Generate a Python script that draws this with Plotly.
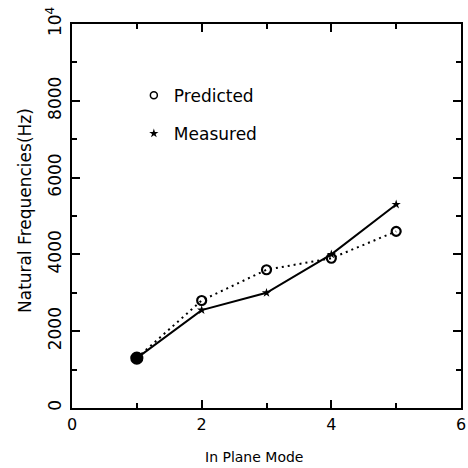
import plotly.graph_objects as go

modes = [1, 2, 3, 4, 5]
predicted = [1300, 2800, 3600, 3900, 4600]
measured = [1300, 2550, 3000, 4000, 5300]
x_ticks = [0, 2, 4, 6]
y_tickvals = [0, 2000, 4000, 6000, 8000, 10000]
y_ticktext = ["0", "2000", "4000", "6000", "8000", "10<sup>4</sup>"]
x_title = "In Plane Mode"
y_title = "Natural Frequencies(Hz)"

font = "DejaVu Sans, Liberation Sans, sans-serif"

fig = go.Figure()
fig.add_trace(go.Scatter(
    x=modes, y=predicted, mode="lines+markers", showlegend=False,
    line=dict(color="black", width=2, dash="2px,4px"),
    marker=dict(symbol=["circle"] + ["circle-open"] * 4, size=[11, 9, 9, 9, 9],
                color="black", opacity=1, line=dict(width=2.2, color="black")),
))
fig.add_trace(go.Scatter(
    x=modes, y=measured, mode="lines+markers", showlegend=False,
    line=dict(color="black", width=2),
    marker=dict(symbol="star", size=7, color="black", opacity=1),
))
# legend entries (markers only)
fig.add_trace(go.Scatter(
    x=[None], y=[None], mode="markers", name="Predicted", legendgroup="p",
    marker=dict(symbol="circle-open", size=7, color="black", line=dict(width=1.5, color="black")),
))
fig.add_trace(go.Scatter(
    x=[None], y=[None], mode="markers", name="Measured", legendgroup="m",
    marker=dict(symbol="star", size=7, color="black"),
))

axis_common = dict(
    showline=True, linewidth=2, linecolor="black", mirror="ticks",
    ticks="inside", ticklen=8, tickwidth=1.5, tickcolor="black",
    showgrid=False, zeroline=False, automargin=False,
    ticklabeloverflow="allow",
)

fig.update_xaxes(
    range=[0, 6], tickvals=x_ticks, ticktext=[str(v) for v in x_ticks],
    tickfont=dict(family=font, size=16, color="black"), ticklabelstandoff=1,
    minor=dict(ticks="inside", dtick=1, tick0=0, ticklen=5, tickcolor="black", tickwidth=1.5),
    **axis_common,
)
fig.update_yaxes(
    range=[0, 10000], tickvals=y_tickvals, ticktext=y_ticktext, tickangle=-90,
    tickfont=dict(family=font, size=17, color="black"), ticklabelstandoff=2,
    minor=dict(ticks="inside", dtick=1000, tick0=0, ticklen=5, tickcolor="black", tickwidth=1.5),
    **axis_common,
)

fig.add_annotation(text=y_title, xref="paper", yref="paper", x=0, y=0.5,
                   xanchor="center", yanchor="middle", xshift=-47, yshift=5,
                   textangle=-90, showarrow=False,
                   font=dict(family=font, size=17, color="black"))
fig.add_annotation(text=x_title, xref="paper", yref="paper", x=0.5, y=0,
                   xanchor="center", yanchor="middle", xshift=-13, yshift=-49,
                   showarrow=False,
                   font=dict(family=font, size=14, color="black"))

fig.update_layout(
    width=468, height=468,
    margin=dict(l=72, r=7, t=24, b=60),
    paper_bgcolor="white", plot_bgcolor="white",
    legend=dict(x=0.159, y=0.86, xanchor="left", yanchor="top",
                font=dict(family=font, size=17, color="black"),
                tracegroupgap=13, traceorder="grouped", itemwidth=30,
                bgcolor="rgba(0,0,0,0)"),
)

fig.write_html(
    "out.html",
    config={"displayModeBar": False},
    post_script="document.body.style.margin='0';document.body.style.overflow='hidden';"
                "document.documentElement.style.overflow='hidden';",
)
